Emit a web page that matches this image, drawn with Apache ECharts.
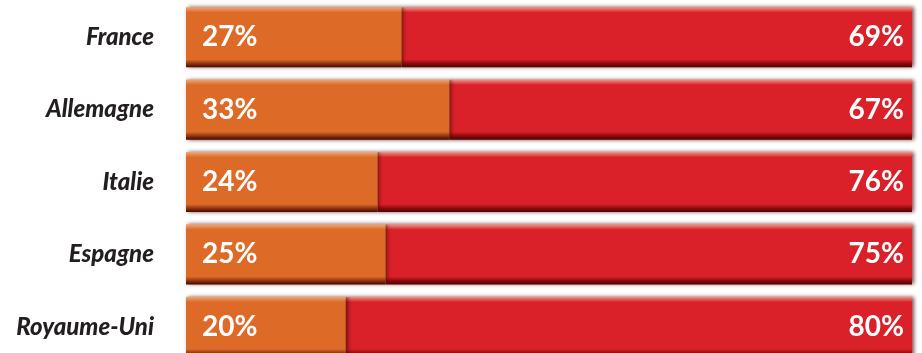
<!DOCTYPE html>
<html>
<head>
<meta charset="utf-8">
<script src="https://cdn.jsdelivr.net/npm/echarts@6/dist/echarts.min.js"></script>
<style>
  html, body { margin: 0; padding: 0; background: #fff; }
  #chart { width: 922px; height: 353px; }
</style>
</head>
<body>
<div id="chart"></div>
<script>
const countries = ["France", "Allemagne", "Italie", "Espagne", "Royaume-Uni"];
const orangeValues = [27, 33, 24, 25, 20];
const redValues = [69, 67, 76, 75, 80];

function vGrad(light, main, dark) {
  return {
    type: "linear", x: 0, y: 0, x2: 0, y2: 1,
    colorStops: [
      { offset: 0, color: light },
      { offset: 0.09, color: main },
      { offset: 0.87, color: main },
      { offset: 0.94, color: dark },
      { offset: 1, color: "#4a0500" },
    ],
  };
}

const chart = echarts.init(document.getElementById("chart"));
chart.setOption({
  animation: false,
  grid: { left: 186, right: 10, top: 1, height: 362, outerBoundsMode: "none" },
  xAxis: {
    type: "value",
    min: 0,
    max: 91,
    show: false,
  },
  yAxis: {
    type: "category",
    data: countries,
    inverse: true,
    axisLine: { show: false },
    axisTick: { show: false },
    axisLabel: {
      margin: 32,
      color: "#231f20",
      fontFamily: "Lato",
      fontStyle: "italic",
      fontWeight: 900,
      fontSize: 24,
    },
  },
  series: [
    {
      type: "bar",
      stack: "total",
      z: 3,
      data: orangeValues,
      barCategoryGap: "17%",
      itemStyle: {
        color: vGrad("#eca87e", "#dd6a27", "#8c3410"),
        shadowColor: "rgba(70,10,0,0.7)",
        shadowBlur: 4,
        shadowOffsetX: 2,
      },
      label: {
        show: true,
        position: "insideLeft",
        distance: 16,
        formatter: "{c}%",
        color: "#fff",
        fontFamily: "Lato",
        fontWeight: "bold",
        fontSize: 28,
      },
    },
    {
      type: "bar",
      stack: "total",
      z: 2,
      data: redValues,
      itemStyle: {
        color: vGrad("#eb9a88", "#da2028", "#8a0a0c"),
        shadowColor: "rgba(70,0,0,0.7)",
        shadowBlur: 4,
        shadowOffsetX: 2,
      },
      label: {
        show: true,
        position: "insideRight",
        distance: 8,
        formatter: "{c}%",
        color: "#fff",
        fontFamily: "Lato",
        fontWeight: "bold",
        fontSize: 28,
      },
    },
  ],
});
</script>
</body>
</html>
